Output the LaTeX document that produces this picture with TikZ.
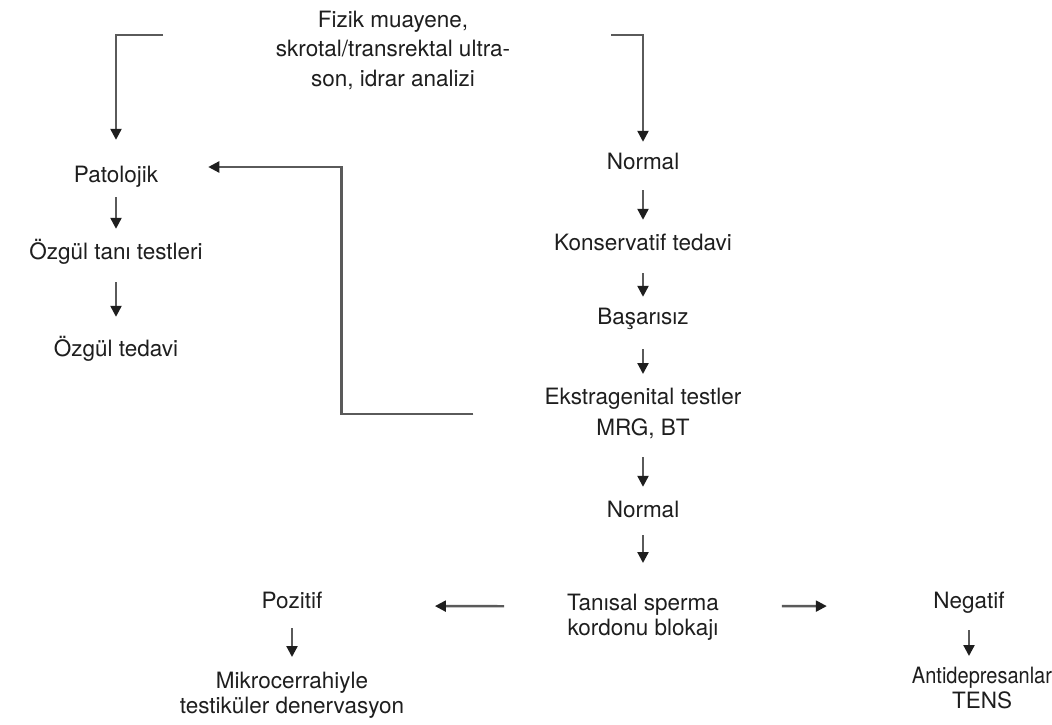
\documentclass[tikz,border=0pt]{standalone}
\usepackage{fontspec}
\setmainfont{TeX Gyre Heros}
\usetikzlibrary{arrows.meta}
\definecolor{linegray}{HTML}{5A5A5A}
\definecolor{txt}{HTML}{1E1E1E}
\newcommand\ls{\rule[-5pt]{0pt}{21.5pt}}
\begin{document}
\begin{tikzpicture}[x=1pt,y=-1pt,
  lbl/.style={inner sep=0pt, text height=16.5pt, text depth=5pt, anchor=base,
    font=\fontsize{22.5}{27}\selectfont, text=txt},
  mlbl/.style={inner sep=0pt, anchor=north, align=center, text=txt},
  arr/.style={draw=linegray, line width=2.3pt,
    -{Triangle[length=11pt,width=11pt,color=txt]}}
]
\useasboundingbox[fill=white] (0,0) rectangle (1052,725);

% nodes
\node[mlbl, font=\fontsize{22.5}{29.5}\selectfont] (top) at (393,10.5)
  {\ls Fizik muayene,\\ \ls skrotal/transrektal ultra-\\ \ls son, idrar analizi};
\node[lbl] (pat)  at (116,182) {Patolojik};
\node[lbl] (ozt)  at (116,259) {Özgül tanı testleri};
\node[lbl] (oztd) at (116,356) {Özgül tedavi};
\node[lbl] (n1)   at (643,169) {Normal};
\node[lbl] (kons) at (643,250) {Konservatif tedavi};
\node[lbl] (bas)  at (643,324) {Başarısız};
\node[mlbl, font=\fontsize{22.5}{31}\selectfont] (ekst) at (643,387.5)
  {\ls Ekstragenital testler\\ \ls MRG, BT};
\node[lbl] (n2)   at (643,517) {Normal};
\node[mlbl, font=\fontsize{22.5}{25}\selectfont] (tan) at (643,593.5)
  {\ls Tanısal sperma\\ \ls kordonu blokajı};
\node[lbl] (poz)  at (292,608) {Pozitif};
\node[mlbl, font=\fontsize{22.5}{25}\selectfont] (mik) at (292,671.5)
  {\ls Mikrocerrahiyle\\ \ls testiküler denervasyon};
\node[lbl] (neg)  at (969,608) {Negatif};
\node[mlbl, font=\fontsize{22.5}{25}\selectfont] (anti) at (982,666.5)
  {\ls\scalebox{0.89}[1]{Antidepresanlar}\\ \ls TENS};

% free ends of the top brackets
\coordinate (tls) at (163,35);
\coordinate (trs) at (611,35);

% connectors
\draw[arr, shorten >=25.5pt] (tls) -| (pat);
\draw[arr, shorten >=10.5pt] (trs) -| (n1);

\draw[arr, shorten <=10pt, shorten >=13.5pt] (pat.south) -- (ozt.north);
\draw[arr, shorten <=18pt, shorten >=22.5pt] (ozt.south) -- (oztd.north);

\draw[arr, shorten <=16pt, shorten >=13.5pt] (n1.south) -- (kons.north);
\draw[arr, shorten <=18pt, shorten >=10.5pt] (kons.south) -- (bas.north);
\draw[arr, shorten <=20pt, shorten >=13.5pt] (bas.south) -- (ekst.north);
\draw[arr, shorten <=17pt, shorten >=13.5pt] (ekst.south) -- (n2.north);
\draw[arr, shorten <=13pt, shorten >=30.5pt] (n2.south) -- (tan.north);

\draw[arr, shorten <=71pt, shorten >=50pt]
  (ekst.west) -- ++(-203,0) |- ([yshift=9.25pt]pat.east);

\draw[arr, shorten <=63pt, shorten >=112.4pt]
  ([yshift=10.75pt]tan.west) -- ([yshift=-3.75pt]poz.east);
\draw[arr, shorten <=63pt, shorten >=106.4pt]
  ([yshift=10.75pt]tan.east) -- ([yshift=-3.75pt]neg.west);

\draw[arr, shorten <=15pt, shorten >=14.5pt] (poz.south) -- (mik.north);
\draw[arr, shorten <=17pt, shorten >=10.5pt] (neg.south) -- (neg.south |- anti.north);
\end{tikzpicture}
\end{document}
